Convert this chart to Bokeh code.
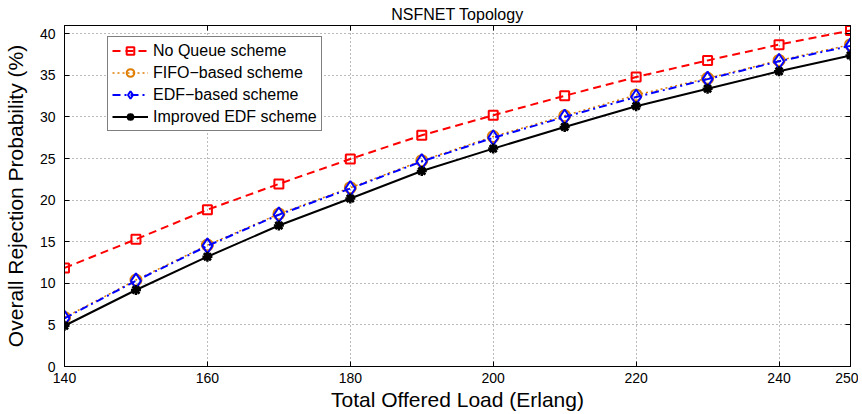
from bokeh.plotting import figure
from bokeh.models import FixedTicker, LinearAxis, Range1d, Legend
from bokeh.embed import file_html
from bokeh.resources import INLINE

# ---- data ----
load = [140, 150, 160, 170, 180, 190, 200, 210, 220, 230, 240, 250]
no_queue = [11.85, 15.3, 18.85, 21.95, 24.95, 27.8, 30.2, 32.55, 34.8, 36.8, 38.7, 40.4]
fifo = [5.9, 10.4, 14.6, 18.35, 21.5, 24.75, 27.65, 30.15, 32.65, 34.65, 36.8, 38.7]
edf = [5.8, 10.3, 14.5, 18.25, 21.4, 24.65, 27.5, 30.0, 32.4, 34.55, 36.7, 38.55]
improved = [4.9, 9.2, 13.2, 16.95, 20.2, 23.5, 26.2, 28.8, 31.3, 33.4, 35.5, 37.4]
x_ticks = [140, 160, 180, 200, 220, 240, 250]
y_ticks = [0, 5, 10, 15, 20, 25, 30, 35, 40]

FONT = "Liberation Sans"

p = figure(frame_width=786, frame_height=341, output_backend="svg",
           toolbar_location=None, x_range=Range1d(140, 250), y_range=Range1d(0, 41),
           min_border_left=64, min_border_right=8, min_border_top=25, min_border_bottom=44,
           title="NSFNET Topology")
p.title.align = "center"
p.title.text_font = FONT
p.title.text_font_size = "16px"
p.title.text_font_style = "normal"
p.title.text_color = "black"
p.title.standoff = 5
p.title.offset = 0

p.outline_line_color = "black"
p.outline_line_width = 1

for ax in (p.xaxis[0], p.yaxis[0]):
    ax.major_tick_in = 5
    ax.major_tick_out = 0
    ax.minor_tick_line_color = None
    ax.axis_line_color = "black"
    ax.major_label_text_font = FONT
    ax.major_label_text_font_size = "14px"
    ax.major_label_text_color = "black"
    ax.axis_label_text_font = FONT
    ax.axis_label_text_font_size = "21px"
    ax.axis_label_text_font_style = "normal"
    ax.axis_label_text_color = "black"

p.xaxis[0].ticker = FixedTicker(ticks=x_ticks)
p.yaxis[0].ticker = FixedTicker(ticks=y_ticks)
p.xaxis[0].axis_label = "Total Offered Load (Erlang)"
p.yaxis[0].axis_label = "Overall Rejection Probability (%)"
p.xaxis[0].major_label_standoff = 6
p.yaxis[0].major_label_standoff = 9
p.xaxis[0].axis_label_standoff = 2
p.yaxis[0].axis_label_standoff = 10

top = LinearAxis(ticker=FixedTicker(ticks=x_ticks), major_tick_in=5, major_tick_out=0,
                 minor_tick_line_color=None, major_label_text_color=None,
                 major_label_text_font_size="0px", major_label_standoff=0)
right = LinearAxis(ticker=FixedTicker(ticks=y_ticks), major_tick_in=5, major_tick_out=0,
                   minor_tick_line_color=None, major_label_text_color=None,
                   major_label_text_font_size="0px", major_label_standoff=0)
p.add_layout(top, "above")
p.add_layout(right, "right")

p.xgrid.ticker = FixedTicker(ticks=x_ticks)
p.ygrid.ticker = FixedTicker(ticks=y_ticks)
for g in (p.xgrid[0], p.ygrid[0]):
    g.grid_line_color = "#777777"
    g.grid_line_dash = "1 3"
    g.grid_line_width = 1

RED = "#ff0000"
ORANGE = "#de7d00"
BLUE = "#0000ff"

r1 = p.line(load, no_queue, line_color=RED, line_width=2, line_dash="8 5")
m1 = p.scatter(load, no_queue, marker="square", size=9, line_color=RED, line_width=2, fill_color=None)
r2 = p.line(load, fifo, line_color=ORANGE, line_width=1.5, line_dash="2 3")
m2 = p.scatter(load, fifo, marker="circle", size=11, line_color=ORANGE, line_width=2, fill_color=None)
r3 = p.line(load, edf, line_color=BLUE, line_width=2, line_dash="8 4 2 4")
m3 = p.scatter(load, edf, marker="diamond", size=15, line_color=BLUE, line_width=2, fill_color=None)
r4 = p.line(load, improved, line_color="black", line_width=2)
m4 = p.scatter(load, improved, marker="asterisk", size=10, line_color="black", line_width=2.5)
m4b = p.scatter(load, improved, marker="x", size=9, line_color="black", line_width=2.5)

legend = Legend(items=[("No Queue scheme", [r1, m1]),
                       ("FIFO\u2212based scheme", [r2, m2]),
                       ("EDF\u2212based scheme", [r3, m3]),
                       ("Improved EDF scheme", [r4, m4, m4b])],
                location=(43, 235))
legend.label_text_font = FONT
legend.label_text_font_size = "16px"
legend.label_text_color = "black"
legend.border_line_color = "black"
legend.border_line_width = 1
legend.glyph_width = 36
legend.glyph_height = 19
legend.label_height = 19
legend.spacing = 3
legend.padding = 4
legend.margin = 0
legend.label_standoff = 5
legend.background_fill_alpha = 1
p.add_layout(legend, "center")

open("out.html", "w").write(file_html(p, INLINE))
